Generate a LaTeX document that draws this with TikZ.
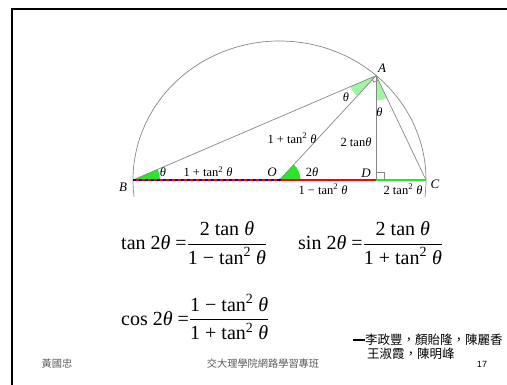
\documentclass[tikz,border=0pt]{standalone}
\usepackage{amsmath}
\usepackage{fontspec}
\usetikzlibrary{calc}
\setmainfont{Liberation Serif}
\newfontfamily\cjk{Noto Sans CJK TC}
\newfontfamily\lsans{Liberation Sans}
\definecolor{bgreen}{RGB}{40,230,40}
\definecolor{lgreen}{RGB}{160,245,160}
\definecolor{linegray}{RGB}{135,135,135}
\definecolor{footgray}{RGB}{90,90,90}
\begin{document}
\begin{tikzpicture}[x=1pt,y=1pt,
  gl/.style={draw=linegray, line width=0.7pt},
  lab/.style={font=\fontsize{12.5}{14}\selectfont, inner sep=0pt},
  ptlab/.style={font=\fontsize{13}{15}\selectfont\itshape, inner sep=0pt},
  formula/.style={font=\fontsize{20}{24}\selectfont, inner sep=0pt, anchor=west},
  foot/.style={font=\cjk\fontsize{10.2}{12}\selectfont, text=footgray, inner sep=0pt},
  names/.style={font=\cjk\fontsize{12.5}{14}\selectfont, inner sep=0pt, anchor=west}]
\useasboundingbox (0,0) rectangle (507,385);
% frame
\draw[line width=2pt] (507,376) -- (12,376) -- (12,0);
% points
\coordinate (O) at (279.5,205);
\coordinate (B) at (133,205);
\coordinate (C) at (426,205);
\coordinate (A) at (376.2,309.4);
\coordinate (D) at (376.2,205);
% angle wedges
\fill[bgreen] (B) -- ++(0:27pt) arc[start angle=0,end angle=23.2,radius=27pt] -- cycle;
\fill[bgreen] (O) -- ++(0:21pt) arc[start angle=0,end angle=47.2,radius=21pt] -- cycle;
\fill[lgreen] (A) -- ++(203.2:28pt) arc[start angle=203.2,end angle=227.2,radius=28pt] -- cycle;
\fill[lgreen] (A) -- ++(270:25pt) arc[start angle=270,end angle=295.5,radius=25pt] -- cycle;
% arc
\draw[gl] (O) ++(-7:146.5pt and 139pt) arc[start angle=-7,end angle=187,x radius=146.5pt,y radius=139pt];
% segments
\draw[gl] (B) -- (A);
\draw[gl] (A) -- (C);
\draw[gl] (A) -- (O);
\draw[gl] (A) -- (D);
\draw[red, line width=1.3pt] (B) -- (D);
\draw[blue, line width=1.3pt, dash pattern=on 3pt off 3pt] (B) -- (O);
\draw[bgreen, line width=1.3pt] (D) -- (C);
% right angle marks
\draw[gl] ($(A)+(203.2:5pt)$) -- ($(A)+(203.2:5pt)+(295.5:5pt)$) -- ($(A)+(295.5:5pt)$);
\draw[gl] ($(D)+(0,8)$) -- ($(D)+(8,8)$) -- ($(D)+(8,0)$);
\fill (O) circle (1.3pt);
% point labels
\node[ptlab] (lA) at (382,317) {A};
\node[ptlab] (lB) at (123,198) {B};
\node[ptlab] (lC) at (435,201) {C};
\node[ptlab] (lO) at (272,213) {O};
\node[ptlab] (lD) at (366,212) {D};
% segment / angle labels
\node[lab] (tB) at (163,213) {\textit{θ}};
\node[lab] (tBO) at (208,213.5) {1 + tan\textsuperscript{2} \textit{θ}};
\node[lab] (tO) at (312,213) {2\textit{θ}};
\node[lab] (tOD) at (323,196) {1 − tan\textsuperscript{2} \textit{θ}};
\node[lab] (tDC) at (403,196) {2 tan\textsuperscript{2} \textit{θ}};
\node[lab] (tAO) at (292,247) {1 + tan\textsuperscript{2} \textit{θ}};
\node[lab] (tAD) at (356,243) {2 tan\textit{θ}};
\node[lab] (tA1) at (379.5,273) {\textit{θ}};
\node[lab] (tA2) at (346,288) {\textit{θ}};
% formulas
\node[formula] (f1) at (121,142) {$\text{tan 2\textit{θ} =}\dfrac{\text{2 tan \textit{θ}}}{\text{1 − tan\textsuperscript{2} \textit{θ}}}$};
\node[formula] (f2) at (298,142) {$\text{sin 2\textit{θ} =}\dfrac{\text{2 tan \textit{θ}}}{\text{1 + tan\textsuperscript{2} \textit{θ}}}$};
\node[formula] (f3) at (121,68) {$\text{cos 2\textit{θ} =}\dfrac{\text{1 − tan\textsuperscript{2} \textit{θ}}}{\text{1 + tan\textsuperscript{2} \textit{θ}}}$};
% footer
\node[names] (n1) at (353,45.5) {\rule[0.3em]{12pt}{1.6pt}李政豐，顏貽隆，陳麗香};
\node[names] (n2) at (367,31) {王淑霞，陳明峰};
\node[foot] (f4) at (57,21) {黃國忠};
\node[foot] (f5) at (263,21) {交大理學院網路學習專班};
\node[font=\lsans\fontsize{9}{10}\selectfont, inner sep=0pt] (pg) at (482,21) {17};
\end{tikzpicture}
\end{document}
